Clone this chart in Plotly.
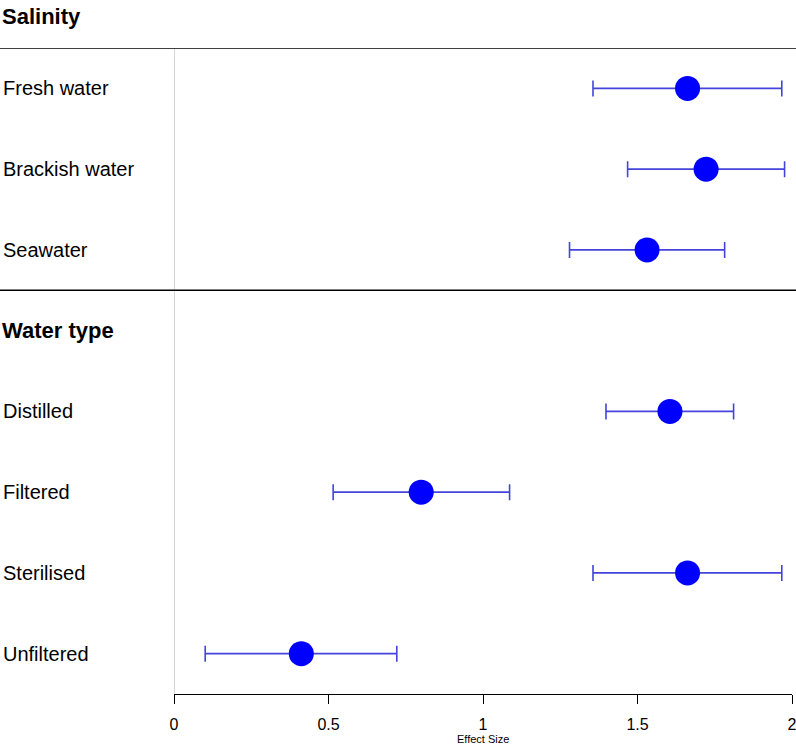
import plotly.graph_objects as go

# ---- data ----
group_titles = ["Salinity", "Water type"]
labels = ["Fresh water", "Brackish water", "Seawater",
          "Distilled", "Filtered", "Sterilised", "Unfiltered"]
rows = [1, 2, 3, 5, 6, 7, 8]          # row index of each label (row 4 = "Water type" header)
estimate = [1.662, 1.722, 1.531, 1.605, 0.800, 1.662, 0.412]
lower =    [1.356, 1.468, 1.280, 1.398, 0.515, 1.356, 0.101]
upper =    [1.967, 1.976, 1.782, 1.811, 1.086, 1.967, 0.721]
tick_vals = [0, 0.5, 1, 1.5, 2]
tick_text = ["0", "0.5", "1", "1.5", "2"]
x_title = "Effect Size"

W, H = 796, 746
ML, MR, MT, MB = 174, 4, 48, 52
PW = W - ML - MR
PH = H - MT - MB
FONT = "Liberation Sans, Arial, sans-serif"

fig = go.Figure()
fig.add_trace(go.Scatter(
    x=estimate, y=rows, mode="markers",
    marker=dict(size=25, color="#0000ff", line=dict(width=0)),
    error_x=dict(type="data", symmetric=False,
                 array=[u - e for u, e in zip(upper, estimate)],
                 arrayminus=[e - l for e, l in zip(estimate, lower)],
                 color="#4444dd", thickness=1.6, width=8),
    showlegend=False, hoverinfo="x+y", cliponaxis=False,
))

annotations = []
for lab, r in zip(labels, rows):
    annotations.append(dict(text=lab, x=(1 - ML) / PW, xref="paper", xanchor="left",
                            y=r, yref="y", yanchor="middle", showarrow=False,
                            font=dict(family=FONT, size=20, color="black")))
# group headers
annotations.append(dict(text="<b>%s</b>" % group_titles[0], x=-ML / PW, xref="paper", xanchor="left",
                        y=1 + 31 / PH, yref="paper", yanchor="middle", showarrow=False,
                        font=dict(family=FONT, size=22, color="black")))
annotations.append(dict(text="<b>%s</b>" % group_titles[1], x=-ML / PW, xref="paper", xanchor="left",
                        y=4, yref="y", yanchor="middle", showarrow=False,
                        font=dict(family=FONT, size=22, color="black")))
annotations.append(dict(text=x_title, x=0.5, xref="paper", xanchor="center",
                        y=-(739 - (H - MB)) / PH, yref="paper", yanchor="middle", showarrow=False,
                        font=dict(family=FONT, size=11, color="black")))

shapes = [
    dict(type="line", xref="x", yref="paper", x0=0, x1=0, y0=0, y1=1,
         line=dict(color="#d6d6d6", width=2), layer="below"),
    dict(type="line", xref="paper", yref="y", x0=-ML / PW, x1=1 + MR / PW, y0=0.5, y1=0.5,
         line=dict(color="black", width=1.3)),
    dict(type="line", xref="paper", yref="y", x0=-ML / PW, x1=1 + MR / PW, y0=3.5, y1=3.5,
         line=dict(color="black", width=1.3)),
]

fig.update_layout(
    width=W, height=H,
    margin=dict(l=ML, r=MR, t=MT, b=MB, pad=0, autoexpand=False),
    paper_bgcolor="white", plot_bgcolor="white",
    font=dict(family=FONT, color="black"),
    annotations=annotations, shapes=shapes,
    xaxis=dict(range=[0, 2], tickvals=tick_vals, ticktext=tick_text,
               showline=True, linecolor="black", linewidth=1.3,
               ticks="outside", ticklen=9, tickwidth=1.3, tickcolor="black",
               ticklabelstandoff=7, ticklabeloverflow="allow", automargin=False,
               tickfont=dict(family=FONT, size=16, color="black"),
               showgrid=False, zeroline=False, fixedrange=True),
    yaxis=dict(range=[8.5, 0.5], visible=False, showgrid=False, zeroline=False, fixedrange=True),
)

fig.write_html("out.html", config={"displayModeBar": False},
               post_script="document.body.style.margin='0px';document.body.style.overflow='hidden';")
